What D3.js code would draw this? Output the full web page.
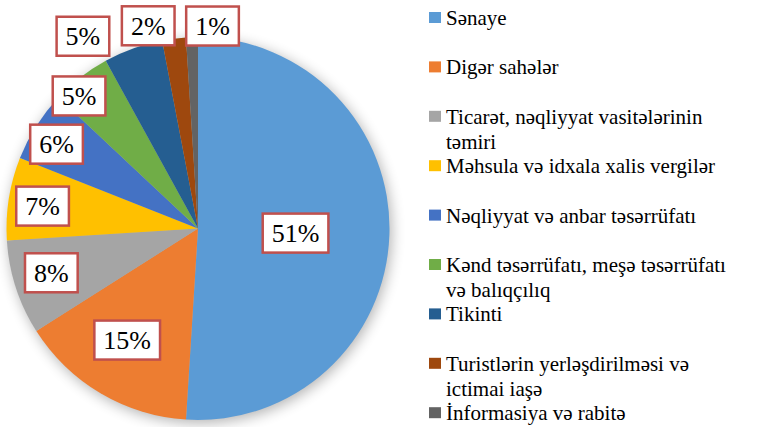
<!DOCTYPE html>
<html><head><meta charset="utf-8"><script src="https://cdn.jsdelivr.net/npm/d3@7"></script></head>
<body style="margin:0">
<script>
// data
var categories = ["Sənaye", "Digər sahələr", "Ticarət, nəqliyyat vasitələrinin təmiri",
  "Məhsula və idxala xalis vergilər", "Nəqliyyat və anbar təsərrüfatı",
  "Kənd təsərrüfatı, meşə təsərrüfatı və balıqçılıq", "Tikinti",
  "Turistlərin yerləşdirilməsi və ictimai iaşə", "İnformasiya və rabitə"];
var values = [51, 15, 8, 7, 6, 5, 5, 2, 1];
var colors = ["#5b9bd5", "#ed7d31", "#a5a5a5", "#ffc000", "#4472c4", "#70ad47", "#255e91", "#9e480e", "#636363"];

// label placement: [radius factor, angle nudge in degrees] relative to slice middle
var labelPlace = [[0.51, 0.9], [0.69, 1.8], [0.80, 1.2], [0.82, -0.8], [0.86, -1.6],
  [0.93, -4.1], [1.17, -11.1], [1.09, -6.6], [1.06, 5.9]];

var cx = 198, cy = 228.5, radius = 191.5;

var svg = d3.select("body").append("svg").attr("width", 769).attr("height", 427);

// soft shadow under the pie
var sh = svg.append("defs").append("filter").attr("id", "sh")
  .attr("x", "-20%").attr("y", "-20%").attr("width", "140%").attr("height", "140%");
sh.append("feGaussianBlur").attr("stdDeviation", 7);

var g = svg.append("g").attr("transform", "translate(" + cx + "," + cy + ")");

g.append("circle")
  .attr("cx", 2).attr("cy", 3).attr("r", radius)
  .attr("fill", "#000").attr("opacity", 0.3)
  .attr("filter", "url(#sh)");

var pie = d3.pie().sort(null).value(function(d) { return d; });
var arcs = pie(values);
var arcGen = d3.arc().innerRadius(0).outerRadius(radius);

g.selectAll("path.slice")
  .data(arcs)
  .enter()
  .append("path")
  .attr("class", "slice")
  .attr("d", arcGen)
  .attr("fill", function(d, i) { return colors[i]; });

// percent labels in boxes
var total = d3.sum(values);
arcs.forEach(function(d, i) {
  var a = (d.startAngle + d.endAngle) / 2 + labelPlace[i][1] * Math.PI / 180;
  var r = radius * labelPlace[i][0];
  var lg = g.append("g")
    .attr("transform", "translate(" + (r * Math.sin(a)) + "," + (-r * Math.cos(a)) + ")");
  var box = lg.append("rect");
  var t = lg.append("text")
    .attr("font-family", "Liberation Serif")
    .attr("font-size", 26)
    .attr("text-anchor", "middle")
    .attr("y", 9)
    .attr("fill", "#000")
    .text(Math.round(d.value / total * 100) + "%");
  var w = t.node().getComputedTextLength() + 18;
  box.attr("x", -w / 2).attr("y", -19.5)
    .attr("width", w).attr("height", 39)
    .attr("fill", "#fff")
    .attr("stroke", "#c0504d")
    .attr("stroke-width", 2.5);
});

// legend
categories.forEach(function(name, i) {
  var lg = svg.append("g").attr("transform", "translate(429," + (25 + i * 49.4) + ")");
  lg.append("rect")
    .attr("x", 0).attr("y", -13)
    .attr("width", 12).attr("height", 11)
    .attr("fill", colors[i]);
  var t = lg.append("text")
    .attr("font-family", "Liberation Serif")
    .attr("font-size", 21)
    .attr("fill", "#000");
  var words = name.split(" "), line = [], lineNo = 0;
  var ts = t.append("tspan").attr("x", 17).attr("y", 0);
  words.forEach(function(w) {
    line.push(w);
    ts.text(line.join(" "));
    if (ts.node().getComputedTextLength() > 300 && line.length > 1) {
      line.pop();
      ts.text(line.join(" "));
      line = [w];
      lineNo++;
      ts = t.append("tspan").attr("x", 17).attr("y", lineNo * 25).text(w);
    }
  });
});
</script></body></html>
